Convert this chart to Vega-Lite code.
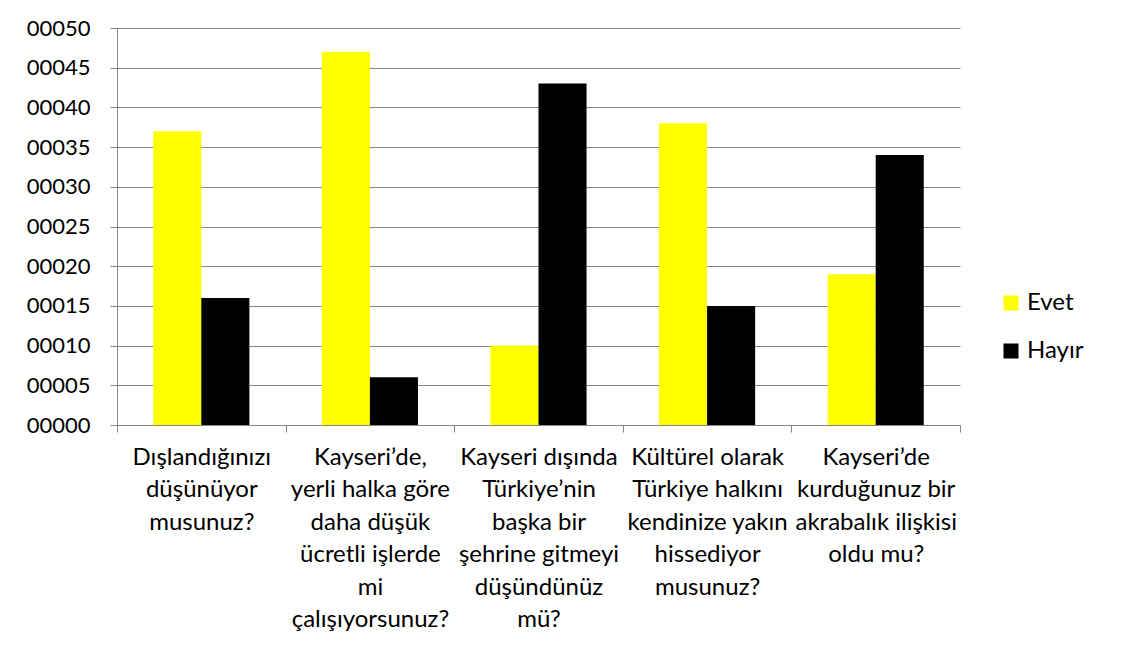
{
  "$schema": "https://vega.github.io/schema/vega-lite/v6.json",
  "width": 843,
  "height": 397,
  "autosize": {"type": "none"},
  "padding": {"left": 117, "top": 28, "right": 163, "bottom": 232},
  "background": "white",
  "config": {
    "view": {"stroke": null},
    "font": "Lato",
    "axis": {"labelFont": "Lato", "labelColor": "#000000"},
    "legend": {"labelFont": "Lato"}
  },
  "data": {
    "values": [
      {"soru": "Dışlandığınızı|düşünüyor|musunuz?", "cevap": "Evet", "deger": 37},
      {"soru": "Dışlandığınızı|düşünüyor|musunuz?", "cevap": "Hayır", "deger": 16},
      {"soru": "Kayseri’de,|yerli halka göre|daha düşük|ücretli işlerde|mi|çalışıyorsunuz?", "cevap": "Evet", "deger": 47},
      {"soru": "Kayseri’de,|yerli halka göre|daha düşük|ücretli işlerde|mi|çalışıyorsunuz?", "cevap": "Hayır", "deger": 6},
      {"soru": "Kayseri dışında|Türkiye’nin|başka bir|şehrine gitmeyi|düşündünüz|mü?", "cevap": "Evet", "deger": 10},
      {"soru": "Kayseri dışında|Türkiye’nin|başka bir|şehrine gitmeyi|düşündünüz|mü?", "cevap": "Hayır", "deger": 43},
      {"soru": "Kültürel olarak|Türkiye halkını|kendinize yakın|hissediyor|musunuz?", "cevap": "Evet", "deger": 38},
      {"soru": "Kültürel olarak|Türkiye halkını|kendinize yakın|hissediyor|musunuz?", "cevap": "Hayır", "deger": 15},
      {"soru": "Kayseri’de|kurduğunuz bir|akrabalık ilişkisi|oldu mu?", "cevap": "Evet", "deger": 19},
      {"soru": "Kayseri’de|kurduğunuz bir|akrabalık ilişkisi|oldu mu?", "cevap": "Hayır", "deger": 34}
    ]
  },
  "mark": {"type": "bar"},
  "encoding": {
    "x": {
      "field": "soru", "type": "nominal", "sort": null,
      "scale": {"paddingInner": 0, "paddingOuter": 0},
      "axis": {
        "orient": "bottom", "title": null,
        "ticks": true, "tickBand": "extent", "tickSize": 7, "tickColor": "#868686",
        "domain": true, "domainColor": "#868686", "domainWidth": 1,
        "labelAngle": 0, "labelFontSize": 24, "labelLineHeight": 32.5,
        "labelPadding": 13, "labelLimit": 0, "labelOverlap": false,
        "labelAlign": "center", "labelBaseline": "top",
        "labelExpr": "split(datum.label, '|')"
      }
    },
    "xOffset": {
      "field": "cevap", "type": "nominal", "sort": ["Evet", "Hayır"],
      "scale": {"paddingInner": 0, "paddingOuter": 0.754}
    },
    "y": {
      "field": "deger", "type": "quantitative",
      "scale": {"domain": [0, 50], "nice": false},
      "axis": {
        "title": null, "values": [0, 5, 10, 15, 20, 25, 30, 35, 40, 45, 50],
        "labelOverlap": false,
        "labelExpr": "format(datum.value, '05d')",
        "labelFontSize": 22, "labelPadding": 20,
        "tickSize": 7, "tickColor": "#868686",
        "domainColor": "#868686", "grid": true, "gridColor": "#868686", "gridWidth": 1
      }
    },
    "color": {
      "field": "cevap", "type": "nominal",
      "scale": {"domain": ["Evet", "Hayır"], "range": ["#FFFF00", "#000000"]},
      "legend": {
        "title": null, "orient": "none", "legendX": 882, "legendY": 263,
        "symbolType": "square", "symbolSize": 225, "symbolStrokeWidth": 0,
        "symbolOpacity": 1, "labelFontSize": 24, "rowPadding": 24, "labelOffset": 4
      }
    }
  }
}
